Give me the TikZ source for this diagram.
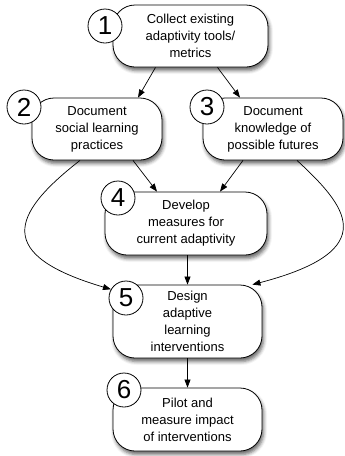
\documentclass[tikz,border=0pt]{standalone}
\usepackage{fontspec}
\setmainfont{Liberation Sans}
\usetikzlibrary{arrows.meta,shadows.blur}

\tikzset{
  stepbox/.style={draw, line width=0.8pt, rounded corners=22pt, fill=white, align=center,
    inner sep=0pt, font=\fontsize{13}{17}\selectfont,
    blur shadow={shadow xshift=1.5pt, shadow yshift=-3.5pt, shadow blur radius=3.5pt, shadow opacity=60}},
  num/.style={draw, circle, line width=0.8pt, fill=white, minimum size=34pt, inner sep=0pt,
    font=\fontsize{26}{26}\selectfont},
  flow/.style={-{Triangle[length=8pt,width=6pt]}, line width=0.7pt}
}

\begin{document}
\begin{tikzpicture}[x=1pt,y=1pt]
        \useasboundingbox (0,0) rectangle (345,-456);

        % boxes
        \node[stepbox, minimum width=155pt, minimum height=62pt] (b1) at (190.5,-36) {Collect existing\\adaptivity tools/\\metrics};
        \node[stepbox, minimum width=130pt, minimum height=62pt] (b2) at (97,-129) {Document\\social learning\\practices};
        \node[stepbox, minimum width=140pt, minimum height=62pt] (b3) at (273,-129) {Document\\knowledge of\\possible futures};
        \node[stepbox, minimum width=162pt, minimum height=63pt] (b4) at (186,-223.5) {Develop\\measures for\\current adaptivity};
        \node[stepbox, minimum width=149pt, minimum height=73pt] (b5) at (187.5,-321.5) {Design\\adaptive\\learning\\interventions};
        \node[stepbox, minimum width=149pt, minimum height=63pt] (b6) at (187.5,-419.5) {Pilot and\\measure impact\\of interventions};

        % numbers
        \node[num] (c1) at (105,-26) {1};
        \node[num] (c2) at (24,-107) {2};
        \node[num] (c3) at (207,-107) {3};
        \node[num] (c4) at (118,-198) {4};
        \node[num] (c5) at (126,-298) {5};
        \node[num] (c6) at (124,-390) {6};

        % arrows
        \draw[flow] ([xshift=-35pt]b1.south) -- ([xshift=41pt]b2.north);
        \draw[flow] ([xshift=27pt]b1.south) -- ([xshift=-33pt]b3.north);
        \draw[flow] ([xshift=36pt]b2.south) -- ([xshift=-29pt]b4.north);
        \draw[flow] ([xshift=-30pt]b3.south) -- ([xshift=34pt]b4.north);
        \draw[flow] ([xshift=-17pt]b2.south) .. controls (10,-215) and (-5,-255) .. (c5.150);
        \draw[flow] ([xshift=24pt]b3.south) .. controls (345,-205) and (385,-250) .. ([xshift=-10pt]b5.north east);
        \draw[flow] (b4.south -| b5.north) -- (b5.north);
        \draw[flow] (b5.south) -- (b6.north);
    \end{tikzpicture}
\end{document}
